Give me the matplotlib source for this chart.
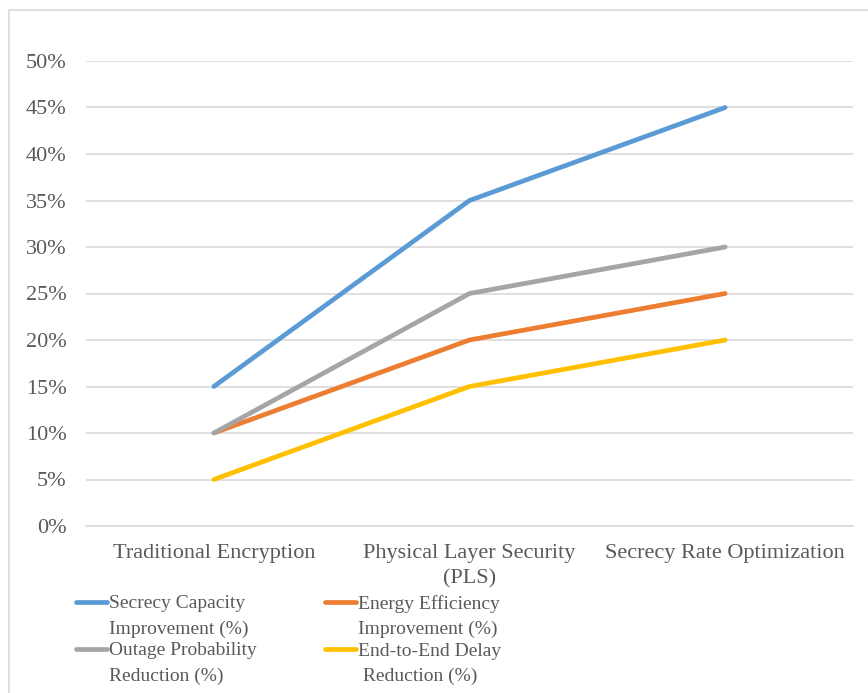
import matplotlib
matplotlib.use("Agg")
import matplotlib.pyplot as plt
from matplotlib.patches import Rectangle
from matplotlib.ticker import PercentFormatter, MultipleLocator
from matplotlib.legend_handler import HandlerLine2D

categories = ["Traditional Encryption", "Physical Layer Security\n(PLS)", "Secrecy Rate Optimization"]
secrecy_capacity = [15, 35, 45]
energy_efficiency = [10, 20, 25]
outage_probability = [10, 25, 30]
delay_reduction = [5, 15, 20]

series_labels = [
    "Secrecy Capacity\nImprovement (%)",
    "Energy Efficiency\nImprovement (%)",
    "Outage Probability\nReduction (%)",
    "End-to-End Delay\n Reduction (%)",
]
series_colors = ["#5B9BD5", "#ED7D31", "#A5A5A5", "#FFC000"]

plt.rcParams["font.family"] = ["Liberation Serif", "DejaVu Serif"]
text_color = "#595959"
grid_color = "#D9D9D9"


class TopLineHandler(HandlerLine2D):
    """Line handle placed level with the first line of a two-line label."""

    def create_artists(self, legend, orig_handle, xdescent, ydescent,
                       width, height, fontsize, trans):
        artists = super().create_artists(legend, orig_handle, xdescent, ydescent,
                                         width, height, fontsize, trans)
        for a in artists:
            a.set_ydata([y + 0.74 * fontsize for y in a.get_ydata()])
        return artists


fig = plt.figure(figsize=(8.68, 6.93), dpi=100)
ax = fig.add_axes([86 / 868, 1 - 526 / 693, 767 / 868, 465 / 693])

# chart frame
fig.patches.append(Rectangle((9 / 868, -0.05), 1.0, 1 - 10 / 693 + 0.05,
                             transform=fig.transFigure, fill=False,
                             edgecolor=grid_color, linewidth=1.2))

x = list(range(len(categories)))
all_series = [secrecy_capacity, energy_efficiency, outage_probability, delay_reduction]
draw_order = [0, 2, 1, 3]
lines = {}
for i in draw_order:
    ln, = ax.plot(x, all_series[i], color=series_colors[i], linewidth=3.4,
                  solid_capstyle="round", solid_joinstyle="round",
                  label=series_labels[i], zorder=3 + i)
    lines[i] = ln

ax.set_xlim(-0.5, 2.5)
ax.set_ylim(0, 50)
ax.yaxis.set_major_locator(MultipleLocator(5))
ax.yaxis.set_major_formatter(PercentFormatter(decimals=0))
ax.set_xticks(x)
ax.set_xticklabels(categories, linespacing=1.45)
ax.grid(axis="y", color=grid_color, linewidth=1.2)
ax.set_axisbelow(True)
for s in ["top", "right", "left"]:
    ax.spines[s].set_visible(False)
ax.spines["bottom"].set_color(grid_color)
ax.spines["bottom"].set_linewidth(1.2)
ax.tick_params(axis="both", length=0, labelsize=16, colors=text_color)
ax.tick_params(axis="y", pad=14)
ax.tick_params(axis="x", pad=13)

# legend filled column by column, so this order reads row by row
legend_order = [0, 2, 1, 3]
leg = ax.legend([lines[i] for i in legend_order],
                [series_labels[i] for i in legend_order], ncol=2,
                loc="upper left", bbox_to_anchor=(76 / 868, 1 - 595 / 693),
                bbox_transform=fig.transFigure, frameon=False,
                fontsize=14, handlelength=1.6, handletextpad=0.1,
                columnspacing=3.5, labelspacing=0.22, borderpad=0,
                borderaxespad=0, handler_map={matplotlib.lines.Line2D: TopLineHandler()})
for t in leg.get_texts():
    t.set_color(text_color)
    t.set_linespacing(1.62)

fig.savefig("out.png", dpi=100, facecolor="white")
